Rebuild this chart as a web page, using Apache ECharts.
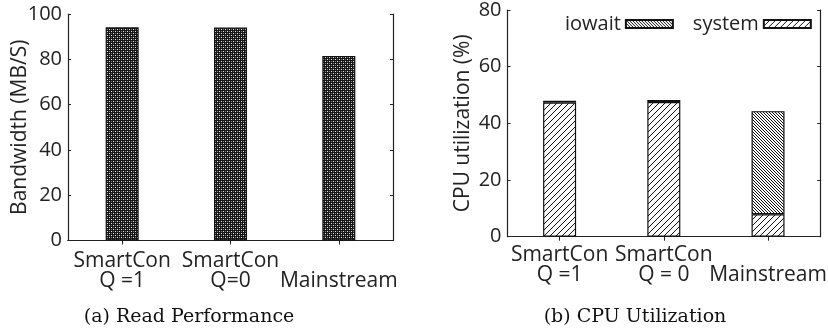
<!DOCTYPE html>
<html>
<head>
<meta charset="utf-8">
<script src="https://cdn.jsdelivr.net/npm/echarts@6/dist/echarts.min.js"></script>
<style>
  html, body { margin: 0; padding: 0; background: #fff; }
  #chart { width: 828px; height: 330px; }
</style>
</head>
<body>
<div id="chart"></div>
<script>
// (a) read bandwidth per configuration
const readCategories = ['SmartCon\nQ =1', 'SmartCon\nQ=0', 'Mainstream'];
const bandwidth = [94.1, 94.0, 81.5];

// (b) CPU utilization, stacked system + iowait
const cpuCategories = ['SmartCon\nQ =1', 'SmartCon\nQ = 0', 'Mainstream'];
const systemUtil = [47.3, 47.5, 7.9];
const iowaitUtil = [0.7, 0.7, 36.4];

const readTicks = [0, 20, 40, 60, 80, 100];
const cpuTicks = [0, 20, 40, 60, 80];

const SANS = '"Open Sans", "Noto Sans", sans-serif';
const SERIF = '"DejaVu Serif", "Liberation Serif", serif';
const INK = '#222';

// Fill patterns drawn on small tiles
function tile(size, draw) {
  const c = document.createElement('canvas');
  c.width = size; c.height = size;
  const g = c.getContext('2d');
  g.fillStyle = '#fff';
  g.fillRect(0, 0, size, size);
  draw(g, size);
  return { image: c, repeat: 'repeat' };
}
const dotted = tile(4, (g) => {
  g.fillStyle = '#161616';
  g.fillRect(0, 0, 4, 4);
  g.fillStyle = '#e8e8e8';
  g.fillRect(1, 1, 1, 1);
  g.fillRect(3, 3, 1, 1);
  g.fillStyle = '#7a7a7a';
  g.fillRect(1, 3, 1, 1);
  g.fillRect(3, 1, 1, 1);
});
function hatch(size, width, forward) {
  return tile(size, (g, s) => {
    g.strokeStyle = '#111';
    g.lineWidth = width;
    for (let k = -1; k <= 1; k++) {
      g.beginPath();
      if (forward) {
        g.moveTo(-1 + k * s, s + 1);
        g.lineTo(s + 1 + k * s, -1);
      } else {
        g.moveTo(-1 + k * s, -1);
        g.lineTo(s + 1 + k * s, s + 1);
      }
      g.stroke();
    }
  });
}
const systemFill = hatch(6, 1, true);
const iowaitFill = hatch(3, 1, false);

const axisLine = { show: true, lineStyle: { color: INK, width: 1.2 } };
const innerTick = { show: true, inside: true, length: 3, lineStyle: { color: INK, width: 1 } };
const tickLabel = { color: INK, fontFamily: SANS, fontSize: 20 };

function catLabel(margin) {
  return {
    show: true, interval: 0, margin: margin, color: INK, fontFamily: SANS,
    fontSize: 21, lineHeight: 19.5,
    formatter: (v) => (v.indexOf('\n') < 0 ? '\n' + v : v)
  };
}

function xPair(grid, cats, margin) {
  return [
    { type: 'category', gridIndex: grid, data: cats, position: 'bottom',
      axisLine: axisLine, axisTick: { show: false }, axisLabel: catLabel(margin) },
    { type: 'category', gridIndex: grid, data: cats, position: 'top',
      axisLine: axisLine, axisLabel: { show: false },
      axisTick: Object.assign({}, innerTick, { alignWithLabel: true, length: 4 }) }
  ];
}
function yPair(grid, ticks, name, gap) {
  const max = ticks[ticks.length - 1];
  const step = ticks[1] - ticks[0];
  return [
    { type: 'value', gridIndex: grid, position: 'left', min: ticks[0], max: max, interval: step,
      axisLine: axisLine, axisTick: innerTick, splitLine: { show: false },
      axisLabel: Object.assign({ margin: 6 }, tickLabel),
      name: name, nameLocation: 'middle', nameRotate: 90, nameGap: gap,
      nameMoveOverlap: false,
      nameTextStyle: { color: INK, fontFamily: SANS, fontSize: 21 } },
    { type: 'value', gridIndex: grid, position: 'right', min: ticks[0], max: max, interval: step,
      axisLine: axisLine, axisTick: innerTick, splitLine: { show: false },
      axisLabel: { show: false } }
  ];
}

const chart = echarts.init(document.getElementById('chart'), null, { renderer: 'canvas' });
chart.setOption({
  animation: false,
  backgroundColor: '#fff',
  grid: [
    { left: 68, top: 14, width: 325, height: 226.5 },
    { left: 507.5, top: 10, width: 324, height: 226.7 }
  ],
  xAxis: [].concat(xPair(0, readCategories, 11), xPair(1, cpuCategories, 9)),
  yAxis: [].concat(
    yPair(0, readTicks, 'Bandwidth (MB/S)', 37),
    yPair(1, cpuTicks, 'CPU utilization (%)', 34)
  ),
  legend: {
    data: ['iowait', 'system'],
    orient: 'horizontal',
    left: 565, top: 14, width: 300,
    padding: 0,
    align: 'right',
    icon: 'rect',
    itemWidth: 47, itemHeight: 8, itemGap: 19,
    textStyle: { color: INK, fontFamily: SANS, fontSize: 20, padding: [0, 0, 0, 0] }
  },
  title: [
    { text: '(a) Read Performance', left: 189, top: 308, textAlign: 'center', padding: 0,
      textStyle: { color: '#111', fontFamily: SERIF, fontSize: 19, fontWeight: 'normal' } },
    { text: '(b) CPU Utilization', left: 635, top: 308, textAlign: 'center', padding: 0,
      textStyle: { color: '#111', fontFamily: SERIF, fontSize: 19, fontWeight: 'normal' } }
  ],
  series: [
    { name: 'bandwidth', type: 'bar', xAxisIndex: 0, yAxisIndex: 0, barWidth: 33,
      data: bandwidth,
      itemStyle: { color: dotted, borderColor: '#111', borderWidth: 1.2 } },
    { name: 'system', type: 'bar', xAxisIndex: 2, yAxisIndex: 2, stack: 'cpu', barWidth: 33,
      data: systemUtil,
      itemStyle: { color: systemFill, borderColor: '#111', borderWidth: 1.2 } },
    { name: 'iowait', type: 'bar', xAxisIndex: 2, yAxisIndex: 2, stack: 'cpu', barWidth: 33,
      data: iowaitUtil,
      itemStyle: { color: iowaitFill, borderColor: '#111', borderWidth: 1.2 } }
  ]
});
</script>
</body>
</html>
